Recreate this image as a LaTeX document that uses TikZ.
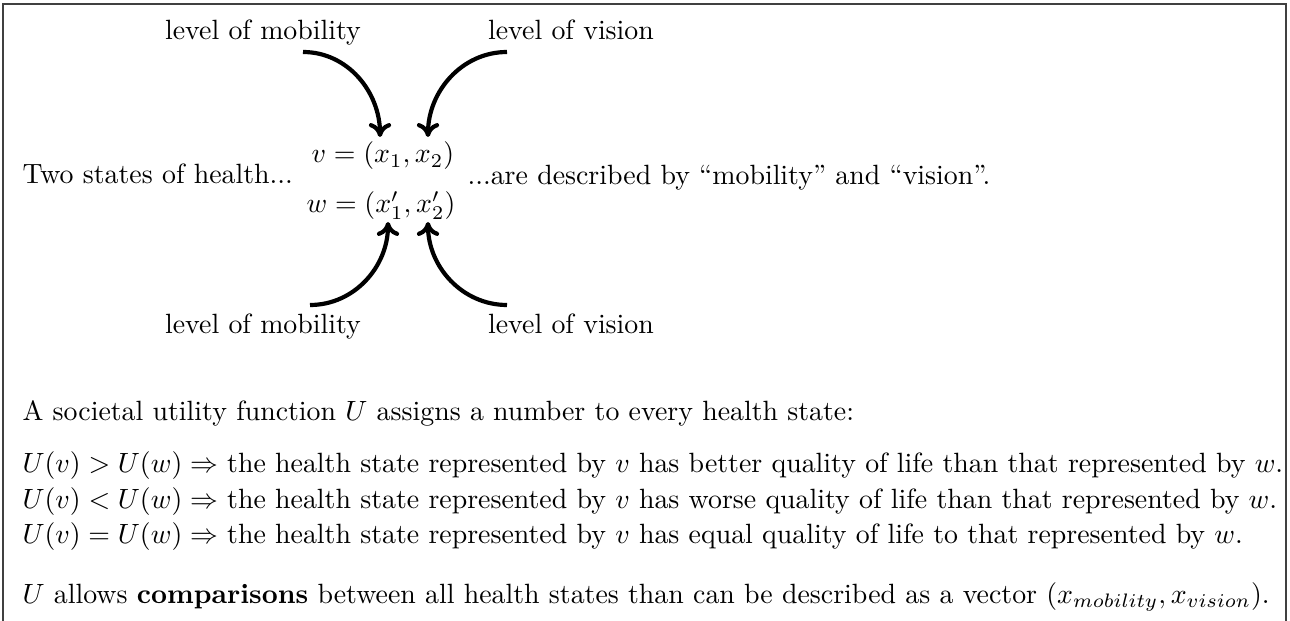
\documentclass[tikz,border=0pt]{standalone}
\usepackage{amsmath}
\usetikzlibrary{arrows.meta}
\begin{document}
\begin{tikzpicture}[x=0.359pt,y=-0.359pt,
  lbl/.style={inner sep=0pt,anchor=base},
  txt/.style={inner sep=0pt,anchor=base west},
  arr/.style={line width=1.5pt,-{To[length=5pt,width=8pt,line width=1.5pt]}}]
\useasboundingbox (0,0) rectangle (1290,621);
\draw[line width=0.8pt,black!75] (3,621) -- (3,4) -- (1286,4) -- (1286,621);
\node[lbl] (m1) at (263,40) {level of mobility};
\node[lbl] (v1) at (571,40) {level of vision};
\node[lbl] (m2) at (263,333) {level of mobility};
\node[lbl] (v2) at (571,333) {level of vision};
\node[lbl] (vv) at (383,163) {$v=(x_1,x_2)$};
\node[lbl] (ww) at (381,213) {$w=(x_1',x_2')$};
\node[txt] (two) at (22,184) {Two states of health...};
\node[txt] (are) at (467,185) {...are described by ``mobility'' and ``vision''.};
\coordinate (a1) at (303,52); \coordinate (t1) at (380,137);
\coordinate (a2) at (507,52); \coordinate (t2) at (428,137);
\coordinate (a3) at (310,305); \coordinate (t3) at (388,222);
\coordinate (a4) at (507,305); \coordinate (t4) at (428,222);
\draw[arr] (a1) to[out=0,in=90] (t1);
\draw[arr] (a2) to[out=180,in=90] (t2);
\draw[arr] (a3) to[out=0,in=-90] (t3);
\draw[arr] (a4) to[out=180,in=-90] (t4);
\node[txt] (s0) at (22,420) {A societal utility function $U$ assigns a number to every health state:};
\node[txt] (s1) at (22,472) {$U(v)>U(w)\Rightarrow$ the health state represented by $v$ has better quality of life than that represented by $w$.};
\node[txt] (s2) at (22,508) {$U(v)<U(w)\Rightarrow$ the health state represented by $v$ has worse quality of life than that represented by $w$.};
\node[txt] (s3) at (22,543) {$U(v)=U(w)\Rightarrow$ the health state represented by $v$ has equal quality of life to that represented by $w$.};
\node[txt] (s4) at (22,603) {$U$ allows \textbf{comparisons} between all health states than can be described as a vector $(x_{mobility},x_{vision})$.};
\end{tikzpicture}
\end{document}
